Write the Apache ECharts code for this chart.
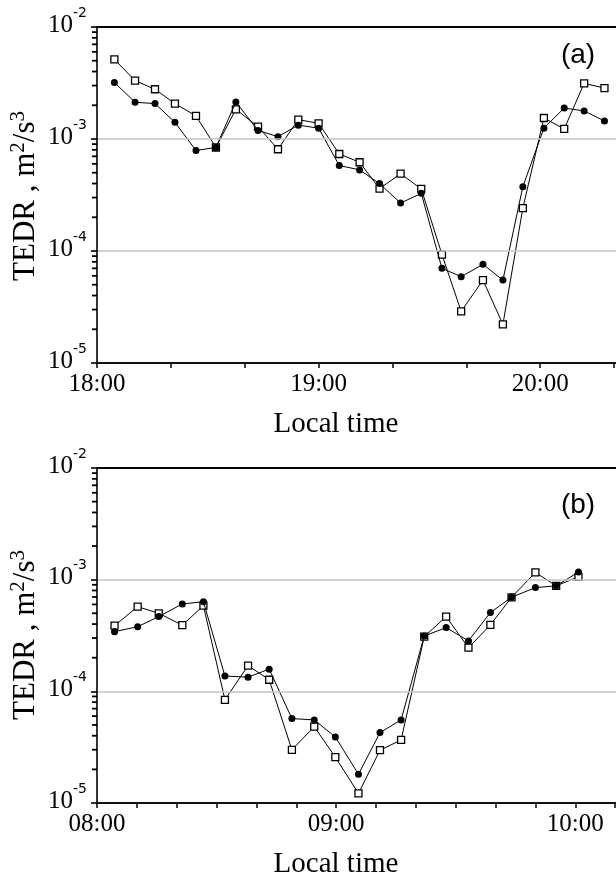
<!DOCTYPE html>
<html>
<head>
<meta charset="utf-8">
<script src="https://cdn.jsdelivr.net/npm/echarts@6/dist/echarts.min.js"></script>
<style>
html,body{margin:0;padding:0;background:#fff;}
#chart{width:616px;height:877px;}
</style>
</head>
<body>
<div id="chart"></div>
<script>
// ---- Data (minutes after start hour, TEDR m^2/s^3) ----
// Panel (a): start 18:00
var topTimes = [4.7, 10.3, 15.7, 21.1, 26.8, 32.2, 37.6, 43.6, 49.0, 54.5, 60.0, 65.6, 71.1, 76.5, 82.2, 87.8, 93.4, 98.6, 104.5, 109.9, 115.3, 121.0, 126.5, 131.9, 137.4];
var topCircle = [3.2e-3, 2.13e-3, 2.07e-3, 1.41e-3, 7.9e-4, 8.4e-4, 2.14e-3, 1.19e-3, 1.05e-3, 1.33e-3, 1.25e-3, 5.8e-4, 5.3e-4, 4.0e-4, 2.68e-4, 3.27e-4, 7.0e-5, 5.9e-5, 7.6e-5, 5.5e-5, 3.75e-4, 1.25e-3, 1.89e-3, 1.78e-3, 1.45e-3];
var topSquare = [5.15e-3, 3.32e-3, 2.78e-3, 2.07e-3, 1.61e-3, 8.4e-4, 1.84e-3, 1.29e-3, 8.1e-4, 1.49e-3, 1.38e-3, 7.35e-4, 6.2e-4, 3.6e-4, 4.9e-4, 3.58e-4, 9.3e-5, 2.89e-5, 5.5e-5, 2.21e-5, 2.41e-4, 1.54e-3, 1.23e-3, 3.14e-3, 2.85e-3];
// Panel (b): start 08:00
var botTimes = [4.4, 10.2, 15.5, 21.4, 26.7, 32.1, 37.9, 43.2, 48.9, 54.5, 59.8, 65.6, 71.0, 76.3, 82.1, 87.6, 93.2, 98.7, 104.0, 110.0, 115.2, 120.8];
var botCircle = [3.42e-4, 3.79e-4, 4.67e-4, 6.06e-4, 6.35e-4, 1.37e-4, 1.34e-4, 1.58e-4, 5.7e-5, 5.55e-5, 3.9e-5, 1.81e-5, 4.27e-5, 5.55e-5, 3.13e-4, 3.72e-4, 2.83e-4, 5.07e-4, 6.95e-4, 8.5e-4, 8.8e-4, 1.17e-3];
var botSquare = [3.87e-4, 5.73e-4, 5.0e-4, 3.91e-4, 5.85e-4, 8.4e-5, 1.70e-4, 1.27e-4, 2.99e-5, 4.83e-5, 2.57e-5, 1.22e-5, 2.97e-5, 3.67e-5, 3.09e-4, 4.67e-4, 2.46e-4, 3.93e-4, 6.95e-4, 1.16e-3, 8.8e-4, 1.06e-3];

var topStartHour = 18, botStartHour = 8;
var yMin = 1e-5, yMax = 1e-2;
var minorMultipliers = [2, 3, 4, 5, 6, 7, 8, 9];
var decades = [1e-5, 1e-4, 1e-3];

// ---- Build ----
var minorVals = [];
decades.forEach(function (d) { minorMultipliers.forEach(function (m) { minorVals.push(m * d); }); });

function pairs(t, v) { return v.map(function (y, i) { return [t[i], y]; }); }
function timeFmt(start) {
  return function (v) {
    if (Math.round(v) % 60 !== 0) return '';
    var h = start + Math.round(v) / 60;
    return (h < 10 ? '0' : '') + h + ':00';
  };
}
var serif = '"Liberation Serif","Times New Roman",serif';
var sans = '"Liberation Sans",Arial,sans-serif';

function yAxisCfg(idx) {
  return {
    type: 'log', logBase: 10, gridIndex: idx, min: yMin, max: yMax,
    axisLine: { show: true, lineStyle: { color: '#000', width: 1.6 } },
    axisTick: { show: true, length: 6, lineStyle: { color: '#000', width: 1.6 } },
    minorTick: { show: false },
    splitLine: { show: true, lineStyle: { color: ['#000', '#c4c4c4', '#c4c4c4', '#000'], width: 1.5 } },
    axisLabel: {
      margin: 10,
      formatter: function (v) { var e = Math.round(Math.log10(v)); return '{b|10}{s|' + e + '}'; },
      rich: {
        b: { fontFamily: serif, fontSize: 25, color: '#000', padding: [0, 0, 4, 0] },
        s: { fontFamily: '"DejaVu Sans",sans-serif', fontSize: 14, color: '#000', padding: [0, 0, 28, 0] }
      }
    },
    z: 5
  };
}
function xAxisCfg(idx, max, interval, start) {
  return {
    type: 'value', gridIndex: idx, min: 0, max: max, interval: interval,
    axisLine: { show: true, onZero: false, lineStyle: { color: '#000', width: 1.6 } },
    axisTick: { show: true, length: 5, lineStyle: { color: '#000', width: 1.5 } },
    splitLine: { show: false },
    axisLabel: { margin: 9, fontFamily: serif, fontSize: 25, color: '#000', formatter: timeFmt(start), showMaxLabel: true, showMinLabel: true, hideOverlap: false },
    z: 6
  };
}
function topBorderAxis(idx, max) {
  return {
    type: 'value', gridIndex: idx, position: 'top', min: 0, max: max,
    axisLine: { show: true, onZero: false, lineStyle: { color: '#000', width: 1.6 } },
    axisTick: { show: false }, axisLabel: { show: false }, splitLine: { show: false }, z: 7
  };
}
function lineSeries(idx, data, symbol) {
  var isRect = symbol === 'rect';
  return {
    type: 'line', xAxisIndex: idx, yAxisIndex: idx, data: data,
    symbol: symbol, symbolSize: 7, showAllSymbol: true,
    lineStyle: { color: '#000', width: 1 },
    itemStyle: isRect ? { color: '#fff', borderColor: '#000', borderWidth: 1.3 } : { color: '#000', borderWidth: 0 },
    z: isRect ? 3 : 4, animation: false
  };
}
function yTitle(cy) {
  return { type: 'text', x: 26, y: cy, rotation: Math.PI / 2,
    style: { text: 'TEDR , m{s|2}/s{s|3}', font: '31px ' + serif, fill: '#000', align: 'center', verticalAlign: 'middle',
      rich: { s: { fontFamily: serif, fontSize: 21, padding: [0, 0, 15, 0] } } } };
}

var baseGraphics = [
  { type: 'text', x: 578, y: 55, style: { text: '(a)', font: '28px ' + sans, fill: '#000', textAlign: 'center', textVerticalAlign: 'middle' } },
  { type: 'text', x: 578, y: 505, style: { text: '(b)', font: '28px ' + sans, fill: '#000', textAlign: 'center', textVerticalAlign: 'middle' } },
  { type: 'text', x: 336, y: 424, style: { text: 'Local time', font: '29px ' + serif, fill: '#000', textAlign: 'center', textVerticalAlign: 'middle' } },
  { type: 'text', x: 336, y: 864, style: { text: 'Local time', font: '29px ' + serif, fill: '#000', textAlign: 'center', textVerticalAlign: 'middle' } },
  yTitle(196),
  yTitle(635)
];

var option = {
  backgroundColor: '#fff',
  animation: false,
  grid: [
    { left: 97, top: 27, width: 554, height: 336, outerBoundsMode: 'none', containLabel: false, show: false },
    { left: 97, top: 468, width: 558, height: 335, outerBoundsMode: 'none', containLabel: false, show: false }
  ],
  xAxis: [xAxisCfg(0, 150, 20, topStartHour), xAxisCfg(1, 140, 10, botStartHour), topBorderAxis(0, 150), topBorderAxis(1, 140)],
  yAxis: [yAxisCfg(0), yAxisCfg(1)],
  series: [
    lineSeries(0, pairs(topTimes, topSquare), 'rect'),
    lineSeries(0, pairs(topTimes, topCircle), 'circle'),
    lineSeries(1, pairs(botTimes, botSquare), 'rect'),
    lineSeries(1, pairs(botTimes, botCircle), 'circle')
  ],
  graphic: { elements: baseGraphics }
};
var chart = echarts.init(document.getElementById('chart'), null, { renderer: 'canvas' });
chart.setOption(option);

// Minor log ticks on the y axes, positioned through the chart's own scales
var tickGraphics = [];
[0, 1].forEach(function (g) {
  minorVals.forEach(function (v) {
    var p = chart.convertToPixel({ xAxisIndex: g, yAxisIndex: g }, [0, v]);
    if (p && isFinite(p[0]) && isFinite(p[1])) {
      tickGraphics.push({ type: 'rect', silent: true, z: 100,
        shape: { x: p[0] - 5, y: p[1] - 0.9, width: 5, height: 1.8 },
        style: { fill: '#000' } });
    }
  });
});
chart.setOption({ graphic: { elements: baseGraphics.concat(tickGraphics) } });
</script>
</body>
</html>
